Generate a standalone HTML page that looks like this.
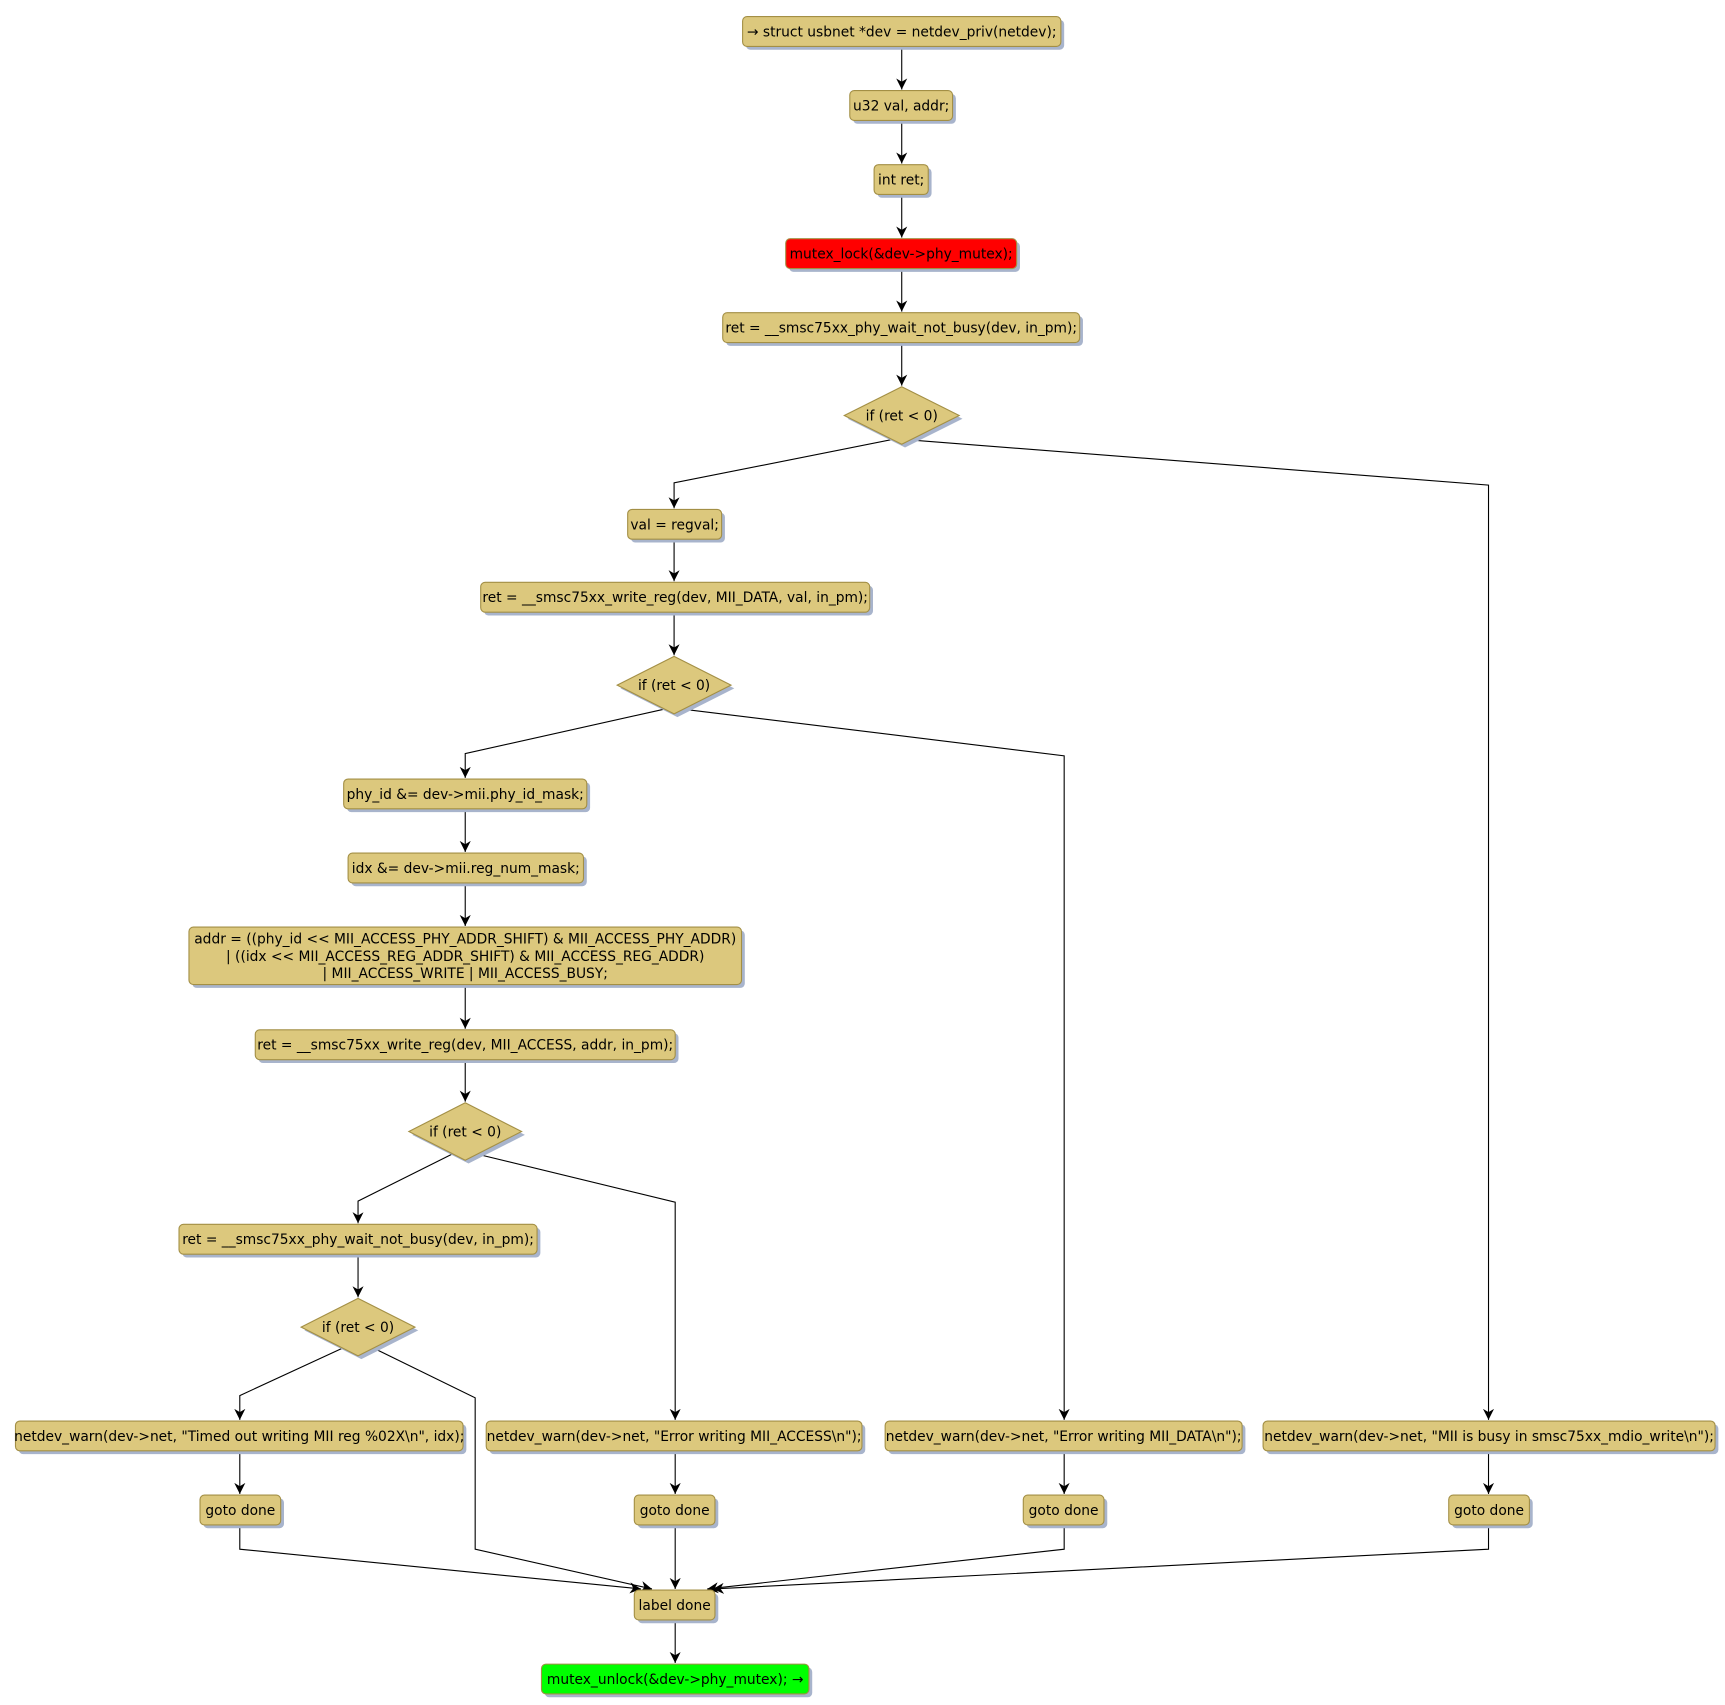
<!DOCTYPE html>
<html><head><meta charset="utf-8"><style>
html,body{margin:0;padding:0;background:#fff;}
svg{display:block;}
text{font-family:"DejaVu Sans","Liberation Sans",sans-serif;font-size:12.5px;fill:#000;text-anchor:middle;}
.b{fill:#DCC87D;stroke:#A38F45;stroke-width:1;}
.s{fill:#A8B4CC;}
.l{fill:none;stroke:#000;stroke-width:1;}
</style></head><body>
<svg width="1725" height="1705" viewBox="0 0 1561 1543" preserveAspectRatio="none" xmlns="http://www.w3.org/2000/svg">
<defs><marker id="a" viewBox="0 0 10 10" refX="10" refY="5" markerWidth="10" markerHeight="10" markerUnits="userSpaceOnUse" orient="auto"><path d="M0,0 L10,5 L0,10 L3,5 Z" fill="#000"/></marker></defs>

<g>
<polyline class="l" marker-end="url(#a)" points="816,42 816,81"/>
<polyline class="l" marker-end="url(#a)" points="816,109 816,148"/>
<polyline class="l" marker-end="url(#a)" points="816,176 816,215"/>
<polyline class="l" marker-end="url(#a)" points="816,243 816,282"/>
<polyline class="l" marker-end="url(#a)" points="816,310 816,349"/>
<polyline class="l" marker-end="url(#a)" points="806,398 610,437 610,460"/>
<polyline class="l" marker-end="url(#a)" points="822,398 1347,439 1347,1285"/>
<polyline class="l" marker-end="url(#a)" points="610,488 610,526"/>
<polyline class="l" marker-end="url(#a)" points="610,554 610,593"/>
<polyline class="l" marker-end="url(#a)" points="600,642 421,682 421,704"/>
<polyline class="l" marker-end="url(#a)" points="620,642 963,684 963,1285"/>
<polyline class="l" marker-end="url(#a)" points="421,732 421,771"/>
<polyline class="l" marker-end="url(#a)" points="421,799 421,838"/>
<polyline class="l" marker-end="url(#a)" points="421,891 421,931"/>
<polyline class="l" marker-end="url(#a)" points="421,959 421,997"/>
<polyline class="l" marker-end="url(#a)" points="410,1044 324,1087 324,1107"/>
<polyline class="l" marker-end="url(#a)" points="430,1044 611,1088 611,1285"/>
<polyline class="l" marker-end="url(#a)" points="324,1135 324,1174"/>
<polyline class="l" marker-end="url(#a)" points="310,1220 217,1263 217,1285"/>
<polyline class="l" marker-end="url(#a)" points="338,1220 430,1265 430,1402 590,1438"/>
<polyline class="l" marker-end="url(#a)" points="217,1313 217,1352"/>
<polyline class="l" marker-end="url(#a)" points="611,1313 611,1352"/>
<polyline class="l" marker-end="url(#a)" points="963,1313 963,1352"/>
<polyline class="l" marker-end="url(#a)" points="1347,1313 1347,1352"/>
<polyline class="l" marker-end="url(#a)" points="217,1380 217,1402 580,1438"/>
<polyline class="l" marker-end="url(#a)" points="611,1380 611,1438"/>
<polyline class="l" marker-end="url(#a)" points="963,1380 963,1402 640,1438"/>
<polyline class="l" marker-end="url(#a)" points="1347,1380 1347,1402 645,1438"/>
<polyline class="l" marker-end="url(#a)" points="611,1466 611,1505"/>
</g>

<g transform="translate(3,3)">
<rect class="s" x="672" y="15" width="288" height="27" rx="4"/>
<rect class="s" x="769" y="82" width="93" height="27" rx="4"/>
<rect class="s" x="791" y="149" width="49" height="27" rx="4"/>
<rect class="s" x="711" y="216" width="209" height="27" rx="4"/>
<rect class="s" x="654" y="283" width="323" height="27" rx="4"/>
<polygon class="s" points="764,376 816,350 868,376 816,402"/>
<rect class="s" x="568" y="461" width="85" height="27" rx="4"/>
<rect class="s" x="435" y="527" width="352" height="27" rx="4"/>
<polygon class="s" points="558.5,620 610,594 661.5,620 610,646"/>
<rect class="s" x="311" y="705" width="220" height="27" rx="4"/>
<rect class="s" x="315" y="772" width="213" height="27" rx="4"/>
<rect class="s" x="171" y="839" width="500" height="52" rx="4"/>
<rect class="s" x="231" y="932" width="380" height="27" rx="4"/>
<polygon class="s" points="370,1024 421,998 472,1024 421,1050"/>
<rect class="s" x="162" y="1108" width="324" height="27" rx="4"/>
<polygon class="s" points="272.5,1201 324,1175 375.5,1201 324,1227"/>
<rect class="s" x="14" y="1286" width="405" height="27" rx="4"/>
<rect class="s" x="440" y="1286" width="340" height="27" rx="4"/>
<rect class="s" x="801" y="1286" width="323" height="27" rx="4"/>
<rect class="s" x="1143" y="1286" width="409" height="27" rx="4"/>
<rect class="s" x="181" y="1353" width="73" height="27" rx="4"/>
<rect class="s" x="574" y="1353" width="73" height="27" rx="4"/>
<rect class="s" x="926" y="1353" width="73" height="27" rx="4"/>
<rect class="s" x="1311" y="1353" width="73" height="27" rx="4"/>
<rect class="s" x="574" y="1439" width="73" height="27" rx="4"/>
<rect class="s" x="490" y="1506" width="242" height="27" rx="4"/>
</g>

<rect class="b" x="672" y="15" width="288" height="27" rx="4"/>
<rect class="b" x="769" y="82" width="93" height="27" rx="4"/>
<rect class="b" x="791" y="149" width="49" height="27" rx="4"/>
<rect class="b" x="711" y="216" width="209" height="27" rx="4" style="fill:#FF0000"/>
<rect class="b" x="654" y="283" width="323" height="27" rx="4"/>
<polygon class="b" points="764,376 816,350 868,376 816,402"/>
<rect class="b" x="568" y="461" width="85" height="27" rx="4"/>
<rect class="b" x="435" y="527" width="352" height="27" rx="4"/>
<polygon class="b" points="558.5,620 610,594 661.5,620 610,646"/>
<rect class="b" x="311" y="705" width="220" height="27" rx="4"/>
<rect class="b" x="315" y="772" width="213" height="27" rx="4"/>
<rect class="b" x="171" y="839" width="500" height="52" rx="4"/>
<rect class="b" x="231" y="932" width="380" height="27" rx="4"/>
<polygon class="b" points="370,1024 421,998 472,1024 421,1050"/>
<rect class="b" x="162" y="1108" width="324" height="27" rx="4"/>
<polygon class="b" points="272.5,1201 324,1175 375.5,1201 324,1227"/>
<rect class="b" x="14" y="1286" width="405" height="27" rx="4"/>
<rect class="b" x="440" y="1286" width="340" height="27" rx="4"/>
<rect class="b" x="801" y="1286" width="323" height="27" rx="4"/>
<rect class="b" x="1143" y="1286" width="409" height="27" rx="4"/>
<rect class="b" x="181" y="1353" width="73" height="27" rx="4"/>
<rect class="b" x="574" y="1353" width="73" height="27" rx="4"/>
<rect class="b" x="926" y="1353" width="73" height="27" rx="4"/>
<rect class="b" x="1311" y="1353" width="73" height="27" rx="4"/>
<rect class="b" x="574" y="1439" width="73" height="27" rx="4"/>
<rect class="b" x="490" y="1506" width="242" height="27" rx="4" style="fill:#00FF00"/>

<text x="816" y="33">→ struct usbnet *dev = netdev_priv(netdev);</text>
<text x="815.5" y="100">u32 val, addr;</text>
<text x="815.5" y="167">int ret;</text>
<text x="815.5" y="234">mutex_lock(&amp;dev-&gt;phy_mutex);</text>
<text x="815.5" y="301">ret = __smsc75xx_phy_wait_not_busy(dev, in_pm);</text>
<text x="816" y="380.5">if (ret &lt; 0)</text>
<text x="610.5" y="479">val = regval;</text>
<text x="611" y="545">ret = __smsc75xx_write_reg(dev, MII_DATA, val, in_pm);</text>
<text x="610" y="624.5">if (ret &lt; 0)</text>
<text x="421" y="723">phy_id &amp;= dev-&gt;mii.phy_id_mask;</text>
<text x="421.5" y="790">idx &amp;= dev-&gt;mii.reg_num_mask;</text>
<text x="421" y="854">addr = ((phy_id &lt;&lt; MII_ACCESS_PHY_ADDR_SHIFT) &amp; MII_ACCESS_PHY_ADDR)</text>
<text x="421" y="869.5">| ((idx &lt;&lt; MII_ACCESS_REG_ADDR_SHIFT) &amp; MII_ACCESS_REG_ADDR)</text>
<text x="421" y="885">| MII_ACCESS_WRITE | MII_ACCESS_BUSY;</text>
<text x="421" y="950">ret = __smsc75xx_write_reg(dev, MII_ACCESS, addr, in_pm);</text>
<text x="421" y="1028.5">if (ret &lt; 0)</text>
<text x="324" y="1126">ret = __smsc75xx_phy_wait_not_busy(dev, in_pm);</text>
<text x="324" y="1205.5">if (ret &lt; 0)</text>
<text x="216.5" y="1304">netdev_warn(dev-&gt;net, "Timed out writing MII reg %02X\n", idx);</text>
<text x="610" y="1304">netdev_warn(dev-&gt;net, "Error writing MII_ACCESS\n");</text>
<text x="962.5" y="1304">netdev_warn(dev-&gt;net, "Error writing MII_DATA\n");</text>
<text x="1347.5" y="1304">netdev_warn(dev-&gt;net, "MII is busy in smsc75xx_mdio_write\n");</text>
<text x="217.5" y="1371">goto done</text>
<text x="610.5" y="1371">goto done</text>
<text x="962.5" y="1371">goto done</text>
<text x="1347.5" y="1371">goto done</text>
<text x="610.5" y="1457">label done</text>
<text x="611" y="1524">mutex_unlock(&amp;dev-&gt;phy_mutex); →</text>
</svg>
</body></html>
